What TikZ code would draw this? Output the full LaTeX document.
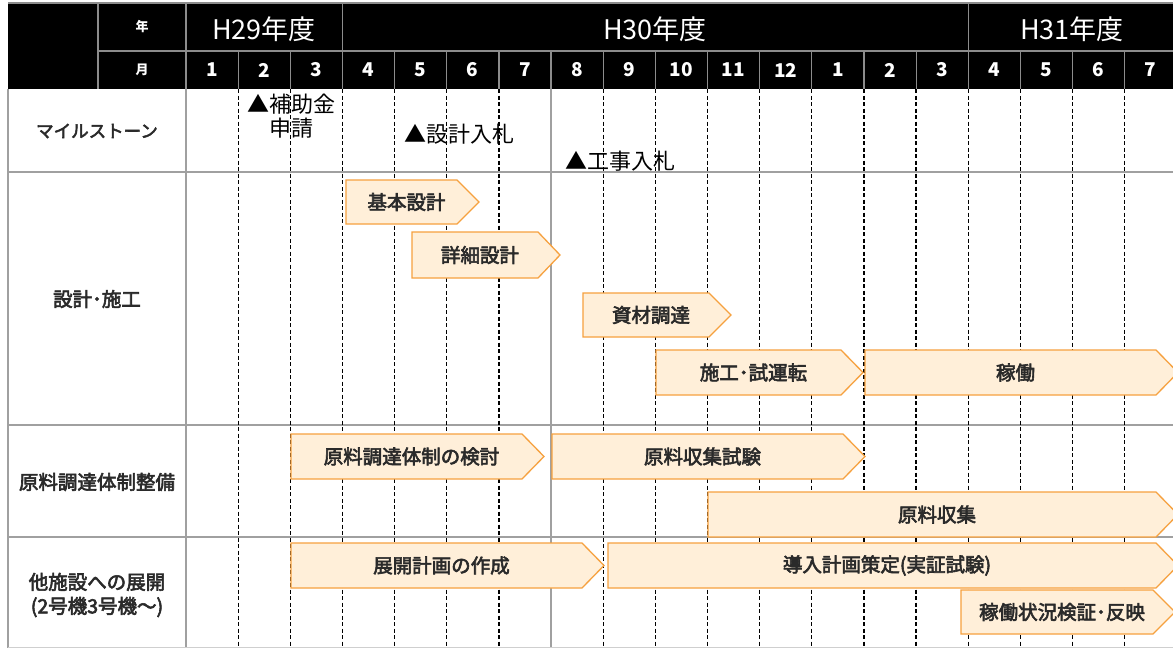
\documentclass[tikz,border=0pt]{standalone}
\usepackage{fontspec}
\setmainfont{Noto Sans CJK JP}
\newfontfamily\medfont{Noto Sans CJK JP}[FakeBold=3]
\definecolor{barfill}{HTML}{FFEFD9}
\definecolor{barline}{HTML}{F6A13F}
\definecolor{gridgray}{HTML}{A0A0A0}
\definecolor{hdrgray}{HTML}{8C8C8C}
\definecolor{txt}{HTML}{2A2A2A}
\tikzset{
  barshape/.style={draw=barline, fill=barfill, line width=1.3pt, line join=miter},
  bartext/.style={text=txt, font=\fontsize{19.5}{22}\selectfont\medfont, inner sep=0pt},
  labeltext/.style={text=txt, font=\fontsize{19.5}{24}\selectfont\medfont, inner sep=0pt, align=center},
  mstext/.style={text=black, font=\fontsize{22}{24}\selectfont, inner sep=0pt, align=center},
  yeartext/.style={text=white, font=\fontsize{27}{30}\selectfont, inner sep=0pt},
  monthtext/.style={text=white, font=\fontsize{19}{20}\selectfont\bfseries, inner sep=0pt},
  smalltext/.style={text=white, font=\fontsize{13}{15}\selectfont\bfseries, inner sep=0pt},
  gridline/.style={draw=gridgray, line width=1.2pt},
  hdrline/.style={draw=hdrgray, line width=1.2pt},
  dashline/.style={draw=black, line width=1.3pt, dash pattern=on 4pt off 2.5pt}
}
\newcommand\gbar[6]{%
  \draw[barshape] (#2,#4) -- (#3,#4) -- ({#3+22},{(#4+#5)/2}) -- (#3,#5) -- (#2,#5) -- cycle;
  \node[bartext] (#1) at ({(#2+#3)/2+5},{(#4+#5)/2}) {#6};}
\begin{document}
\begin{tikzpicture}[x=1pt,y=-1pt]
\useasboundingbox[fill=white] (0,0) rectangle (1173,648);
% header
\fill[black] (8,3) rectangle (1173,89);
\draw[hdrline] (8,3) -- (1173,3);
\draw[hdrline] (98,51) -- (1173,51);
\draw[hdrline] (98,3) -- (98,89);
\foreach \k in {0,3,15} {\draw[hdrline] ({186+52.15*\k},3) -- ({186+52.15*\k},89);}
\foreach \k in {1,...,18} {\draw[hdrline] ({186+52.15*\k},51) -- ({186+52.15*\k},89);}
\node[smalltext] (nen) at (142,27) {年};
\node[smalltext] (tsuki) at (142,70) {月};
\node[yeartext] (h29) at (264,29) {H29年度};
\node[yeartext] (h30) at (655,29) {H30年度};
\node[yeartext] (h31) at (1072,29) {H31年度};
\foreach \m [count=\i from 0] in {1,2,3,4,5,6,7,8,9,10,11,12,1,2,3,4,5,6,7} {
  \node[monthtext] (m\i) at ({186+52.15*\i+26},70) {\m};
}
% body grid
\draw[gridline] (8,89) -- (8,648);
\draw[gridline] (186,89) -- (186,648);
\draw[gridline] ({186+52.15*7},89) -- ({186+52.15*7},648);
\foreach \y in {172,425,537} {\draw[gridline] (8,\y) -- (1173,\y);}
\draw[draw=gridgray!50, line width=1pt] (8,647) -- (1173,647);
\foreach \k in {1,2,3,4,5,6,8,9,10,11,12,13,14,15,16,17,18} {
  \draw[dashline] ({186+52.15*\k},89) -- ({186+52.15*\k},648);
}
% row labels
\node[labeltext, font=\fontsize{17.5}{22}\selectfont\medfont] (r1) at (97,131) {マイルストーン};
\node[labeltext] (r2) at (97,299) {設計･施工};
\node[labeltext] (r3) at (97,482) {原料調達体制整備};
\node[labeltext] (r4) at (97,595) {他施設への展開\\(2号機3号機～)};
% bars
\gbar{b1}{346}{457}{180}{224}{基本設計}
\gbar{b2}{412}{538}{232}{278}{詳細設計}
\gbar{b3}{583}{709}{293}{337}{資材調達}
\gbar{b4}{656}{841}{350}{395}{施工･試運転}
\gbar{b5}{865}{1156}{350}{395}{稼働}
\gbar{b6}{291}{522}{434}{479}{原料調達体制の検討}
\gbar{b7}{552}{843}{434}{479}{原料収集試験}
\gbar{b8}{708}{1156}{492}{537}{原料収集}
\gbar{b9}{291}{582}{543}{588}{展開計画の作成}
\gbar{b10}{608}{1156}{543}{588}{導入計画策定(実証試験)}
\gbar{b11}{961}{1153}{590}{634}{稼働状況検証･反映}
% milestones
\node[mstext] (ms1) at (291,116) {▲補助金\\申請};
\node[mstext] (ms2) at (459,134) {▲設計入札};
\node[mstext] (ms3) at (620,161) {▲工事入札};
\end{tikzpicture}
\end{document}
